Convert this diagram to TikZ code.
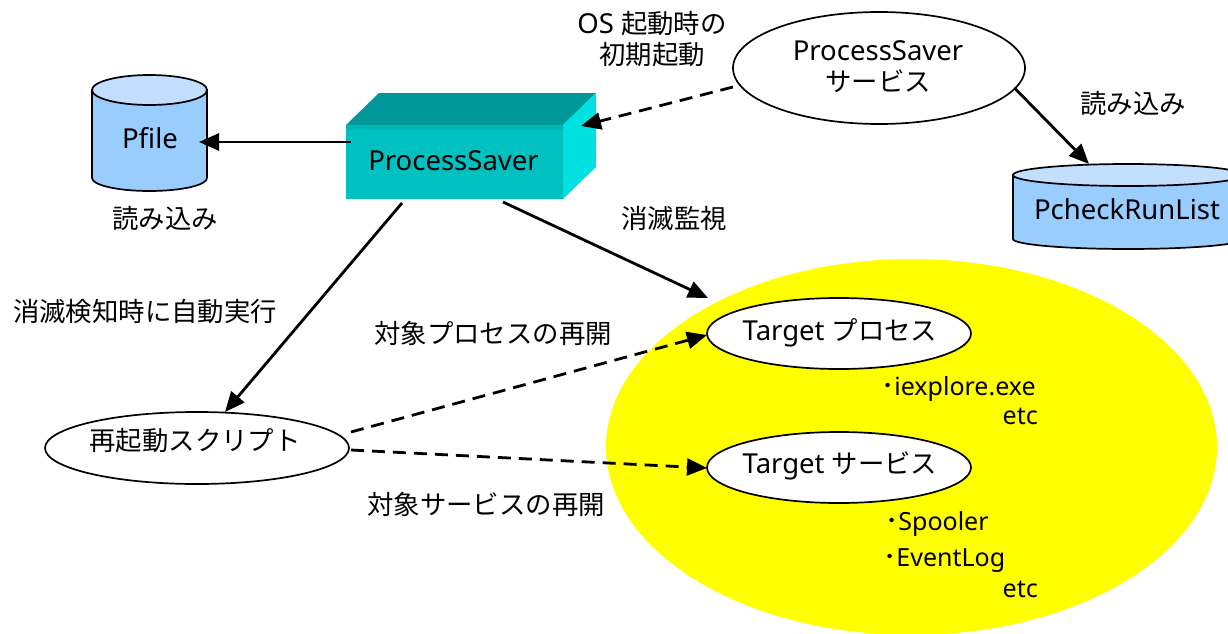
\documentclass[tikz,border=0pt]{standalone}
\usepackage{fontspec}
\setmainfont{Noto Sans}
\newfontfamily\jpf{Noto Sans CJK JP}
\newcommand{\jp}[1]{{\fontsize{26.4}{31}\jpf #1}}
\newcommand{\dotmark}{\jp{･}}
\usetikzlibrary{shapes.geometric,arrows.meta}
\definecolor{cylbody}{HTML}{99CCFF}
\definecolor{cyltop}{HTML}{C2DFFF}
\definecolor{boxfront}{HTML}{00C0C0}
\definecolor{boxband}{HTML}{00B6B6}
\definecolor{boxtop}{HTML}{009999}
\definecolor{boxside}{HTML}{00E0E0}
\definecolor{regionyellow}{HTML}{FFFF00}
\tikzset{
  x=1pt,y=-1pt,
  lbl/.style={font=\fontsize{27.5}{31}\selectfont,inner sep=0pt,align=center,text=black},
  small/.style={font=\fontsize{25}{28}\selectfont,inner sep=0pt,text=black},
  oval/.style={draw=black,line width=1.7pt,fill=white,ellipse,inner sep=0pt},
  cyl/.style={draw=black,line width=1.7pt},
  solidarrow/.style={line width=2.8pt,-{Triangle[length=20pt,width=17pt]}},
  dasharrow/.style={line width=2.8pt,dash pattern=on 13pt off 8pt,-{Triangle[length=20pt,width=17pt]}},
}
\begin{document}
\begin{tikzpicture}
\useasboundingbox (0,0) rectangle (1228,634);
\clip (0,0) rectangle (1228,634);
% yellow region
\node[ellipse,fill=regionyellow,minimum width=611pt,minimum height=376pt,inner sep=0pt] (region) at (911.5,447) {};
% Pfile cylinder
\draw[cyl,fill=cylbody] (92,90) -- (92,178) arc[start angle=180,end angle=360,x radius=57.5,y radius=-13] -- (207,90) -- cycle;
\draw[cyl,fill=cyltop] (149.5,90) ellipse[x radius=57.5,y radius=15];
\node[lbl] (pfile) at (150,138) {Pfile};
% PcheckRunList cylinder
\draw[cyl,fill=cylbody] (1013,175) -- (1013,239) arc[start angle=180,end angle=360,x radius=115,y radius=-10] -- (1243,175) -- cycle;
\draw[cyl,fill=cyltop] (1128,175) ellipse[x radius=115,y radius=11];
\node[lbl] (pcheck) at (1127,209) {PcheckRunList};
% ProcessSaver box
\fill[boxtop] (346,125) -- (379,93) -- (596,93) -- (563,125) -- cycle;
\fill[boxside] (563,125) -- (596,93) -- (596,167) -- (563,199) -- cycle;
\node[fill=boxfront,minimum width=217pt,minimum height=74pt,inner sep=0pt] (box) at (454.5,162) {};
\fill[boxband] (346,125) rectangle (563,130);
\node[lbl] (boxlabel) at (453.5,161) {ProcessSaver};
% ovals
\node[oval,minimum width=292pt,minimum height=112pt] (psvc) at (879,68) {};
\node[lbl] (psvclabel) at (878,67) {ProcessSaver\\\jp{サービス}};
\node[oval,minimum width=304pt,minimum height=72pt] (restart) at (197,448) {};
\node[lbl] (restartlabel) at (195,441) {\jp{再起動スクリプト}};
\node[oval,minimum width=264pt,minimum height=71pt] (tproc) at (839,333.5) {};
\node[lbl] (tproclabel) at (840,333) {Target \jp{プロセス}};
\node[oval,minimum width=264pt,minimum height=71pt] (tsvc) at (839,467.5) {};
\node[lbl] (tsvclabel) at (840,466) {Target \jp{サービス}};
% free labels
\node[lbl] (t1) at (652,39) {OS \jp{起動時の}\\\jp{初期起動}};
\node[lbl] (t2) at (1133,103) {\jp{読み込み}};
\node[lbl] (t3) at (165,218) {\jp{読み込み}};
\node[lbl] (t4) at (674,218) {\jp{消滅監視}};
\node[lbl] (t5) at (145,312) {\jp{消滅検知時に自動実行}};
\node[lbl] (t6) at (493,333) {\jp{対象プロセスの再開}};
\node[lbl] (t7) at (486,504) {\jp{対象サービスの再開}};
\node[small,anchor=west] (s1) at (881,389) {\dotmark iexplore.exe};
\node[small,anchor=east] (s2) at (1038,416) {etc};
\node[small,anchor=west] (s3) at (885,524) {\dotmark Spooler};
\node[small,anchor=west] (s4) at (883,561) {\dotmark EventLog};
\node[small,anchor=east] (s5) at (1038,589) {etc};
% connector ends
\coordinate (boxW) at (351,142);
\coordinate (pfileE) at (199,142);
\coordinate (boxE) at (581,126);
\coordinate (psvcW) at (733,87);
\coordinate (psvcSE) at (1014.5,88);
\coordinate (pcheckN) at (1089,164);
\coordinate (boxS1) at (402,203);
\coordinate (restartN) at (225,412);
\coordinate (boxS2) at (503,202);
\coordinate (regionNW) at (708,298);
\coordinate (restartE1) at (351,432);
\coordinate (tprocW) at (707,335);
\coordinate (restartE2) at (351,450);
\coordinate (tsvcW) at (707,468);
% connectors
\draw[solidarrow] (boxW) -- (pfileE);
\draw[dasharrow] (psvcW) -- (boxE);
\draw[solidarrow] (psvcSE) -- (pcheckN);
\draw[solidarrow] (boxS1) -- (restartN);
\draw[solidarrow] (boxS2) -- (regionNW);
\draw[dasharrow] (restartE1) -- (tprocW);
\draw[dasharrow] (restartE2) -- (tsvcW);
\end{tikzpicture}
\end{document}
